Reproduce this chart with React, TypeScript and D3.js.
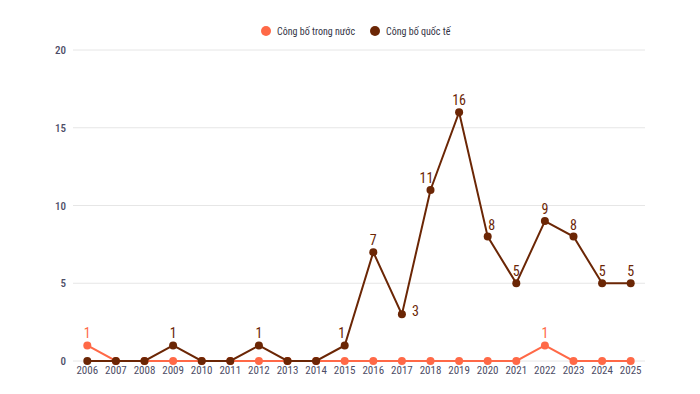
import React from 'react';
import * as d3 from 'd3';

// Years on the x axis
const years = [
  '2006', '2007', '2008', '2009', '2010', '2011', '2012', '2013', '2014', '2015',
  '2016', '2017', '2018', '2019', '2020', '2021', '2022', '2023', '2024', '2025',
];

// Công bố trong nước
const domestic = [1, 0, 0, 0, 0, 0, 0, 0, 0, 0, 0, 0, 0, 0, 0, 0, 1, 0, 0, 0];
// Công bố quốc tế
const international = [0, 0, 0, 1, 0, 0, 1, 0, 0, 1, 7, 3, 11, 16, 8, 5, 9, 8, 5, 5];

const yTicks = [0, 5, 10, 15, 20];

// label offsets where the chart nudges them sideways
const intlLabelDx: Record<string, number> = { '2017': 10, '2018': -4, '2020': 4, '2015': -3 };

const series = [
  { name: 'Công bố trong nước', color: '#ff6947', values: domestic },
  { name: 'Công bố quốc tế', color: '#6b2605', values: international },
];

const W = 700;
const H = 394;
const labelFont = "'Roboto Condensed', 'Liberation Sans Narrow', Roboto, sans-serif";

export default function App() {
  const x = d3.scalePoint<string>().domain(years).range([73, 645]).padding(0.5);
  const y = d3.scaleLinear().domain([0, 20]).range([361, 50]);

  const line = d3
    .line<number>()
    .x((_, i) => x(years[i]) as number)
    .y((d) => y(d));

  return (
    <div style={{ position: 'absolute', left: 0, top: 0 }}>
      <svg width={W} height={H} style={{ display: 'block', background: '#fff' }}>
        {/* grid */}
        {yTicks.map((t) => (
          <g key={t}>
            <line x1={73} x2={645} y1={y(t)} y2={y(t)} stroke="#e6e6e6" strokeWidth={1} />
            <text
              x={66}
              y={y(t) + 4}
              textAnchor="end"
              fontSize={11}
              fontWeight={500}
              fontFamily={labelFont}
              fill="#4d4d66"
            >
              {t}
            </text>
          </g>
        ))}

        {/* x axis labels */}
        {years.map((yr) => (
          <text
            key={yr}
            x={x(yr)}
            y={374}
            textAnchor="middle"
            fontSize={11}
            fontFamily={labelFont}
            fill="#4d4d66"
          >
            {yr}
          </text>
        ))}

        {/* series */}
        {series.map((s) => (
          <g key={s.name}>
            <path d={line(s.values) || ''} fill="none" stroke={s.color} strokeWidth={2} />
            {s.values.map((v, i) => (
              <circle key={i} cx={x(years[i])} cy={y(v)} r={4} fill={s.color} />
            ))}
          </g>
        ))}

        {/* data labels */}
        {series.map((s) =>
          s.values.map((v, i) =>
            v === 0 ? null : (
              <text
                key={s.name + i}
                x={
                  (x(years[i]) as number) +
                  (s.values === international ? intlLabelDx[years[i]] || 0 : 0)
                }
                y={s.values === international && years[i] === '2017' ? y(v) + 2 : y(v) - 7}
                textAnchor={s.values === international && years[i] === '2017' ? 'start' : 'middle'}
                fontSize={14}
                fontFamily={labelFont}
                fill={s.color}
              >
                {v}
              </text>
            ),
          ),
        )}

        {/* legend */}
        <g>
          <circle cx={266} cy={31} r={5} fill={series[0].color} />
          <text x={277} y={35} fontSize={10} fontFamily={labelFont} fill="#333344">
            {series[0].name}
          </text>
          <circle cx={375} cy={31} r={5} fill={series[1].color} />
          <text x={386} y={35} fontSize={10} fontFamily={labelFont} fill="#333344">
            {series[1].name}
          </text>
        </g>
      </svg>
    </div>
  );
}
